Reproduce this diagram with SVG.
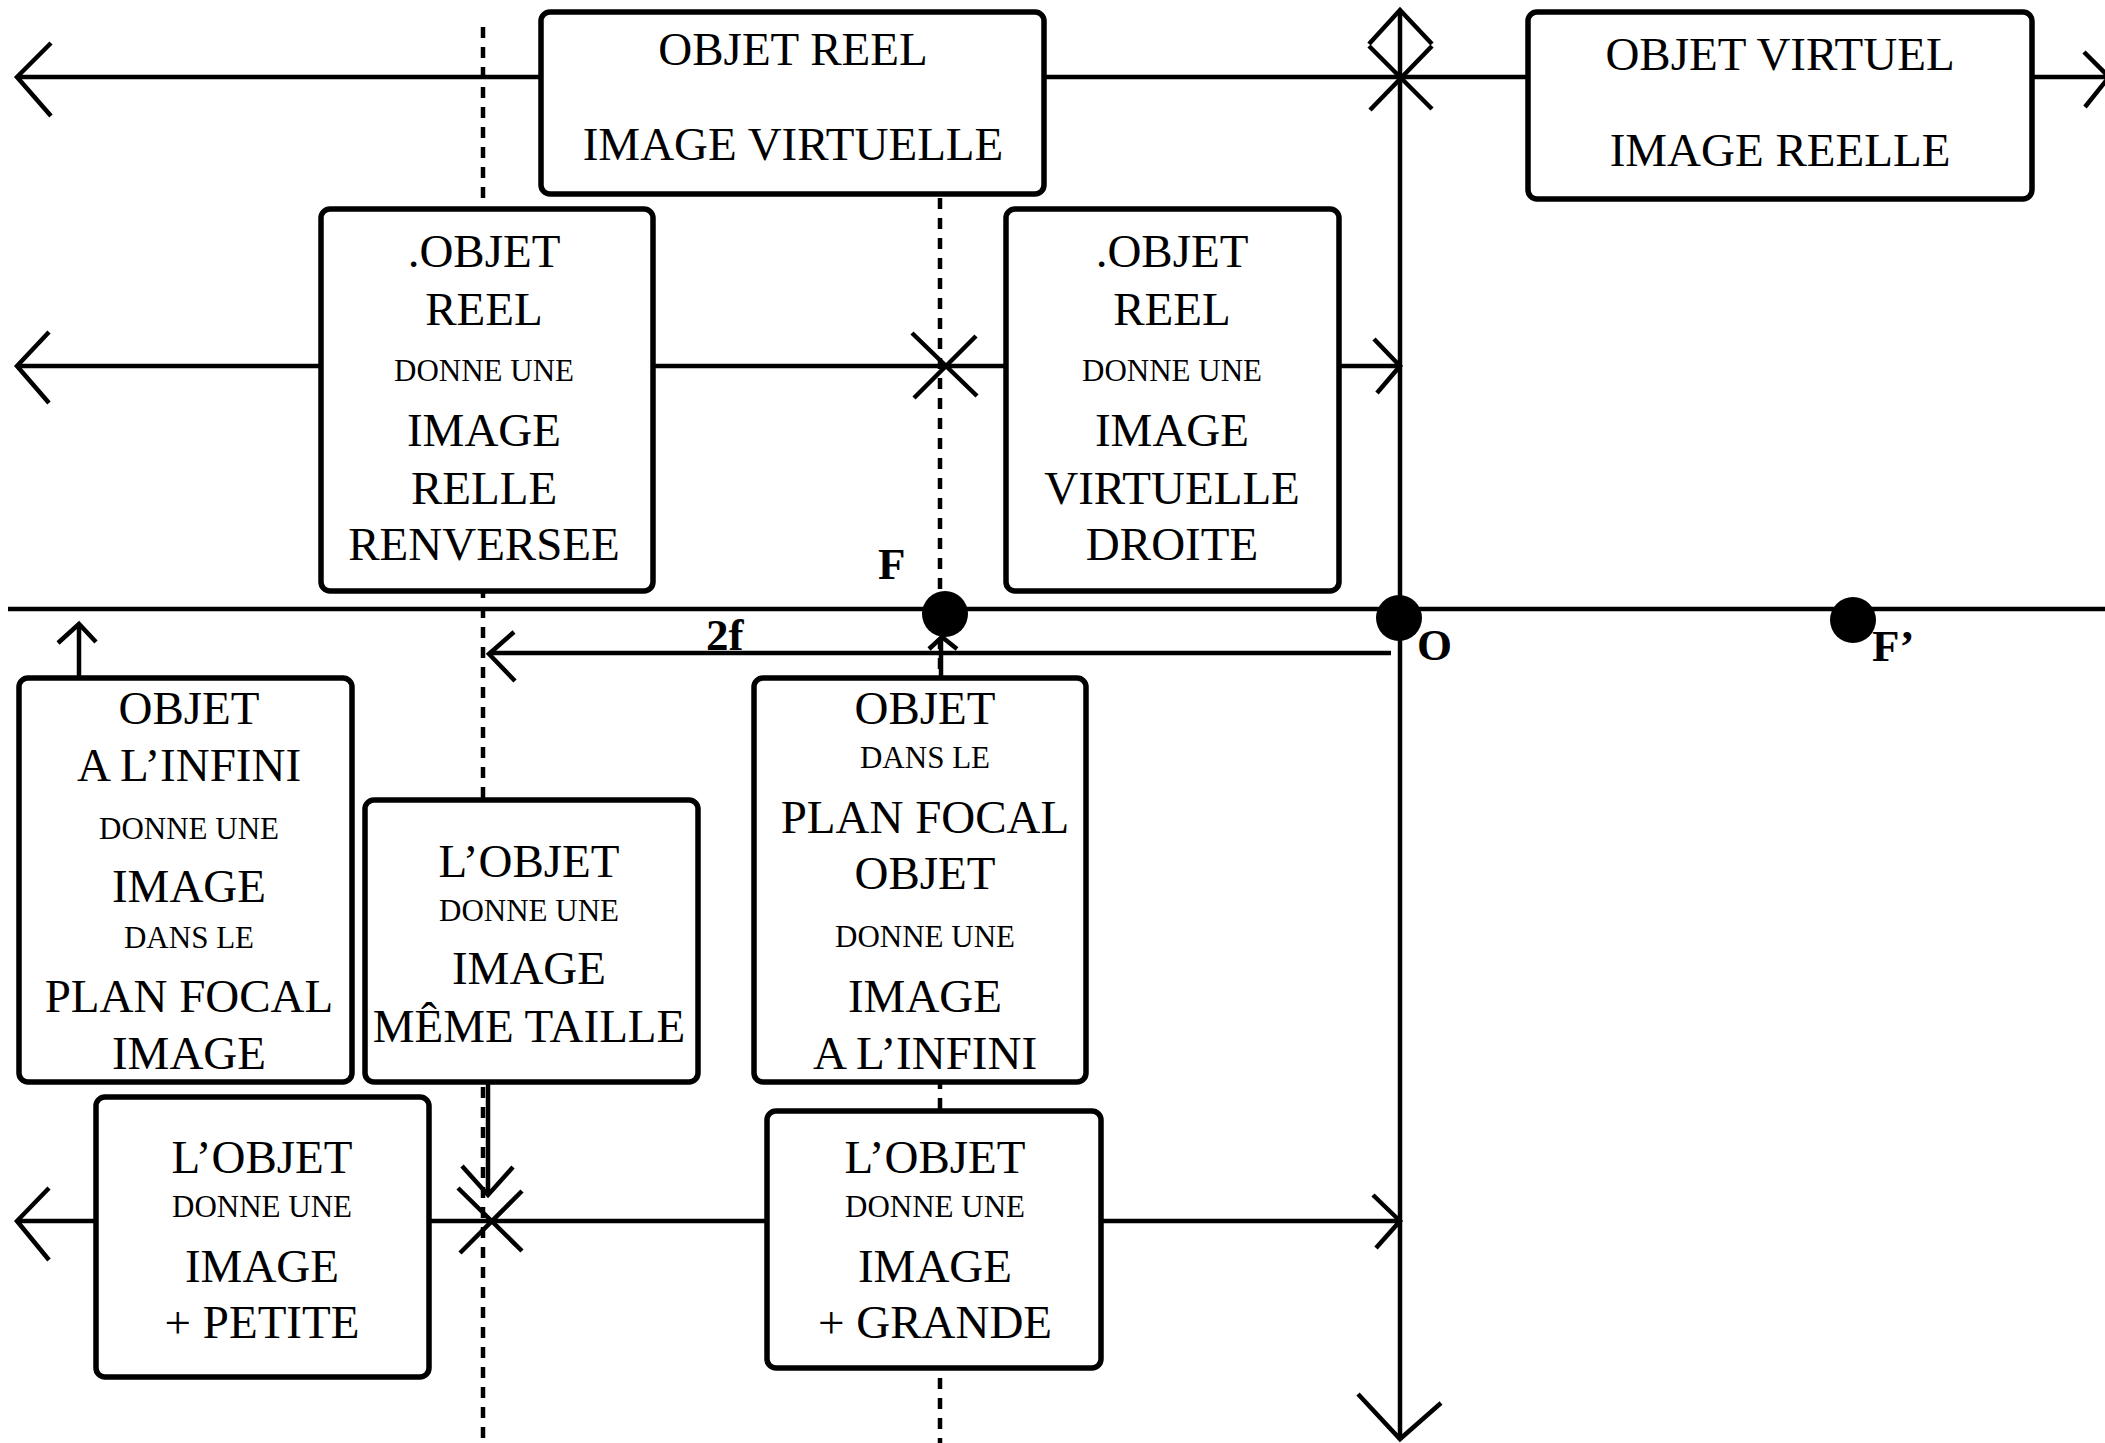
<svg xmlns="http://www.w3.org/2000/svg" width="2105" height="1443" viewBox="0 0 2105 1443">
<style>
.bg{fill:#fff}
.ln{stroke:#000;stroke-width:4.5;fill:none}
.dash{stroke:#000;stroke-width:4.5;fill:none;stroke-dasharray:11 9}
.box{fill:#fff;stroke:#000;stroke-width:5.5}
.t{font-family:"Liberation Serif","Times New Roman",serif;font-size:47px;text-anchor:middle;fill:#000}
.s{font-size:31px}
.lbl{font-family:"Liberation Serif","Times New Roman",serif;font-weight:bold;font-size:45px;fill:#000}
.dot{fill:#000}
</style>
<rect class="bg" x="0" y="0" width="2105" height="1443"/>
<g id="connectors">
  <path class="dash" d="M483 27 V1443"/>
  <path class="dash" d="M940 198 V1443"/>
  <path class="ln" d="M8 609 H2105"/>
  <path class="ln" d="M1400 10 V1440"/>
  <path class="ln" d="M1369 44 L1400 10 L1432 44"/>
  <path class="ln" d="M1369 46 L1432 109 M1432 46 L1370 110"/>
  <path class="ln" d="M1358 1394 L1400 1439 L1441 1403"/>
  <path class="ln" d="M17 77 H2108"/>
  <path class="ln" d="M51 43 L17 77 L51 116"/>
  <path class="ln" d="M2084 52 L2109 77 L2085 107"/>
  <path class="ln" d="M17 366 H1400"/>
  <path class="ln" d="M49 332 L17 366 L49 403"/>
  <path class="ln" d="M1374 339 L1400 366 L1377 393"/>
  <path class="ln" d="M912 333 L977 396 M976 336 L914 398"/>
  <path class="ln" d="M17 1221 H1400"/>
  <path class="ln" d="M49 1188 L17 1221 L49 1260"/>
  <path class="ln" d="M1373 1195 L1400 1221 L1376 1248"/>
  <path class="ln" d="M458 1188 L522 1251 M522 1191 L460 1253"/>
  <path class="ln" d="M488 1082 V1194"/>
  <path class="ln" d="M462 1166 L488 1195 L513 1167"/>
  <path class="ln" d="M489 653 H1391"/>
  <path class="ln" d="M514 632 L489 654 L515 681"/>
  <path class="ln" d="M79 676 V625"/>
  <path class="ln" d="M58 643 L79 624 L96 642"/>
  <path class="ln" d="M941 676 V639"/>
  <path class="ln" d="M929 649 L942 637 L957 649"/>
</g>
<g id="objet-reel-image-virtuelle">
  <rect class="box" x="541" y="12" width="503" height="182" rx="9"/>
  <text class="t" x="793" y="65">OBJET REEL</text>
  <text class="t" x="793" y="160">IMAGE VIRTUELLE</text>
</g>
<g id="objet-virtuel-image-reelle">
  <rect class="box" x="1528" y="12" width="504" height="187" rx="9"/>
  <text class="t" x="1780" y="70">OBJET VIRTUEL</text>
  <text class="t" x="1780" y="166">IMAGE REELLE</text>
</g>
<g id="image-relle-renversee">
  <rect class="box" x="321" y="209" width="332" height="382" rx="9"/>
  <text class="t" x="484" y="267">.OBJET</text>
  <text class="t" x="484" y="325">REEL</text>
  <text class="t s" x="484" y="381">DONNE UNE</text>
  <text class="t" x="484" y="446">IMAGE</text>
  <text class="t" x="484" y="504">RELLE</text>
  <text class="t" x="484" y="560">RENVERSEE</text>
</g>
<g id="image-virtuelle-droite">
  <rect class="box" x="1006" y="209" width="333" height="382" rx="9"/>
  <text class="t" x="1172" y="267">.OBJET</text>
  <text class="t" x="1172" y="325">REEL</text>
  <text class="t s" x="1172" y="381">DONNE UNE</text>
  <text class="t" x="1172" y="446">IMAGE</text>
  <text class="t" x="1172" y="504">VIRTUELLE</text>
  <text class="t" x="1172" y="560">DROITE</text>
</g>
<g id="objet-a-l-infini">
  <rect class="box" x="19" y="678" width="333" height="404" rx="9"/>
  <text class="t" x="189" y="724">OBJET</text>
  <text class="t" x="189" y="781">A L’INFINI</text>
  <text class="t s" x="189" y="839">DONNE UNE</text>
  <text class="t" x="189" y="902">IMAGE</text>
  <text class="t s" x="189" y="948">DANS LE</text>
  <text class="t" x="189" y="1012">PLAN FOCAL</text>
  <text class="t" x="189" y="1069">IMAGE</text>
</g>
<g id="meme-taille">
  <rect class="box" x="365" y="800" width="333" height="282" rx="9"/>
  <text class="t" x="529" y="877">L’OBJET</text>
  <text class="t s" x="529" y="921">DONNE UNE</text>
  <text class="t" x="529" y="984">IMAGE</text>
  <text class="t" x="529" y="1042">MÊME TAILLE</text>
</g>
<g id="objet-plan-focal">
  <rect class="box" x="754" y="678" width="332" height="404" rx="9"/>
  <text class="t" x="925" y="724">OBJET</text>
  <text class="t s" x="925" y="768">DANS LE</text>
  <text class="t" x="925" y="833">PLAN FOCAL</text>
  <text class="t" x="925" y="889">OBJET</text>
  <text class="t s" x="925" y="947">DONNE UNE</text>
  <text class="t" x="925" y="1012">IMAGE</text>
  <text class="t" x="925" y="1069">A L’INFINI</text>
</g>
<g id="plus-petite">
  <rect class="box" x="96" y="1097" width="333" height="280" rx="9"/>
  <text class="t" x="262" y="1173">L’OBJET</text>
  <text class="t s" x="262" y="1217">DONNE UNE</text>
  <text class="t" x="262" y="1282">IMAGE</text>
  <text class="t" x="262" y="1338">+ PETITE</text>
</g>
<g id="plus-grande">
  <rect class="box" x="767" y="1111" width="334" height="257" rx="9"/>
  <text class="t" x="935" y="1173">L’OBJET</text>
  <text class="t s" x="935" y="1217">DONNE UNE</text>
  <text class="t" x="935" y="1282">IMAGE</text>
  <text class="t" x="935" y="1338">+ GRANDE</text>
</g>
<g id="points">
  <circle class="dot" cx="945" cy="614" r="23"/>
  <circle class="dot" cx="1399" cy="618" r="23"/>
  <circle class="dot" cx="1853" cy="620" r="23"/>
  <text class="lbl" x="878" y="579">F</text>
  <text class="lbl" x="1417" y="660">O</text>
  <text class="lbl" x="1872" y="661">F’</text>
  <text class="lbl" x="706" y="650">2f</text>
</g>
</svg>
